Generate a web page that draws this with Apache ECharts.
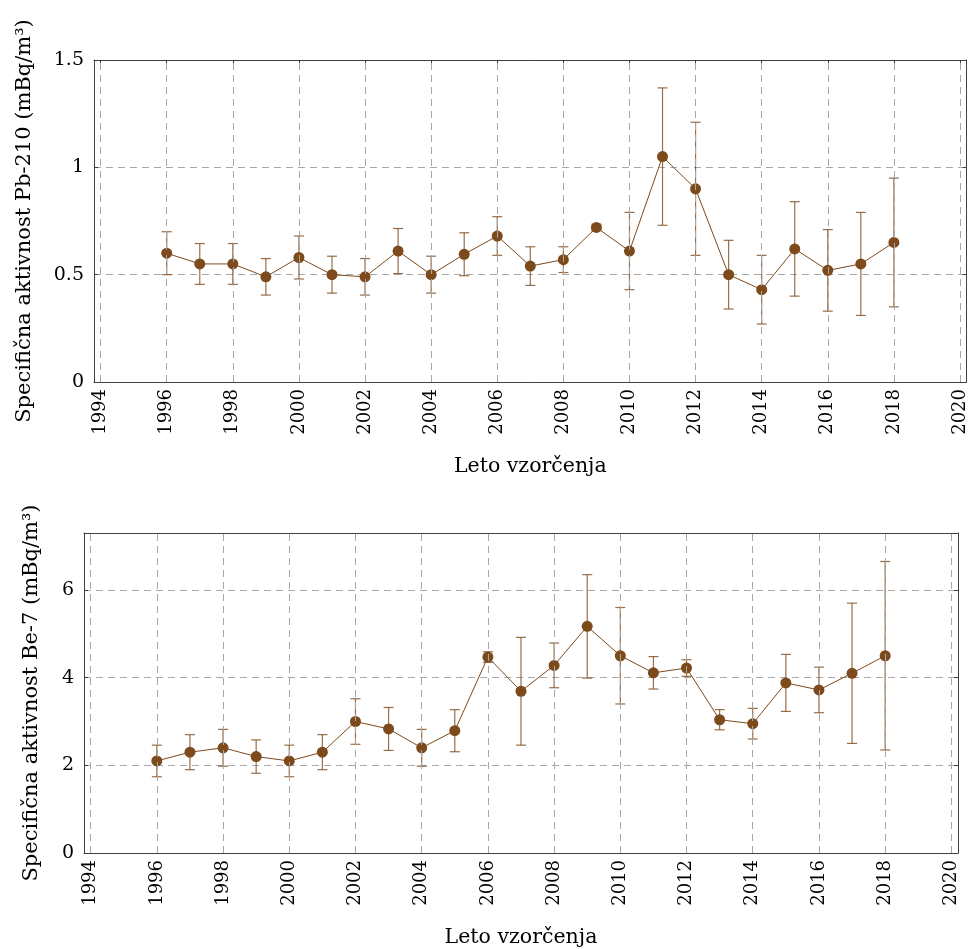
<!DOCTYPE html>
<html>
<head>
<meta charset="utf-8">
<script src="https://cdn.jsdelivr.net/npm/echarts@6/dist/echarts.min.js"></script>
<style>
html,body{margin:0;padding:0;background:#fff;}
#chart{width:969px;height:949px;}
</style>
</head>
<body>
<div id="chart"></div>
<script>
// ---- data ----
var years = [1996,1997,1998,1999,2000,2001,2002,2003,2004,2005,2006,2007,2008,2009,2010,2011,2012,2013,2014,2015,2016,2017,2018];
var pbValues = [0.60,0.55,0.55,0.49,0.58,0.50,0.49,0.61,0.50,0.595,0.68,0.54,0.57,0.72,0.61,1.05,0.90,0.50,0.43,0.62,0.52,0.55,0.65];
var pbErrors = [0.10,0.095,0.095,0.085,0.10,0.086,0.085,0.105,0.086,0.10,0.09,0.09,0.06,0.015,0.18,0.32,0.31,0.16,0.16,0.22,0.19,0.24,0.30];
var beValues = [2.10,2.30,2.40,2.20,2.10,2.30,3.00,2.83,2.40,2.79,4.47,3.69,4.28,5.17,4.50,4.11,4.22,3.04,2.95,3.88,3.72,4.10,4.50];
var beErrors = [0.36,0.40,0.42,0.38,0.36,0.40,0.52,0.49,0.42,0.48,0.12,1.23,0.51,1.18,1.10,0.37,0.19,0.23,0.35,0.65,0.52,1.60,2.15];
var xTickYears = [1994,1996,1998,2000,2002,2004,2006,2008,2010,2012,2014,2016,2018,2020];
var xName = 'Leto vzorčenja';
var pbName = 'Specifična aktivnost Pb-210 (mBq/m³)';
var beName = 'Specifična aktivnost Be-7 (mBq/m³)';

// ---- style ----
var FONT = 'DejaVu Serif';
var BROWN = '#7d4a1c';
var ERR = 'rgba(125,74,28,0.8)';
var GRID = '#a8a8a8';
var AXIS = '#404040';

function pairs(vals){ return years.map(function(y,i){ return [y, vals[i]]; }); }
function errData(vals, errs){ return years.map(function(y,i){ return [y, vals[i]-errs[i], vals[i]+errs[i]]; }); }

function errorSeries(xi, yi, vals, errs){
  return {
    type: 'custom', xAxisIndex: xi, yAxisIndex: yi, silent: true, z: 3,
    data: errData(vals, errs),
    renderItem: function(params, api){
      var lo = api.coord([api.value(0), api.value(1)]);
      var hi = api.coord([api.value(0), api.value(2)]);
      var w = 5;
      var st = {stroke: ERR, lineWidth: 1.2};
      return {type:'group', children:[
        {type:'line', shape:{x1:lo[0],y1:lo[1],x2:hi[0],y2:hi[1]}, style:st},
        {type:'line', shape:{x1:lo[0]-w,y1:lo[1],x2:lo[0]+w,y2:lo[1]}, style:st},
        {type:'line', shape:{x1:hi[0]-w,y1:hi[1],x2:hi[0]+w,y2:hi[1]}, style:st}
      ]};
    }
  };
}
function lineSeries(xi, yi, vals){
  return {
    type:'line', xAxisIndex: xi, yAxisIndex: yi, z: 4,
    data: pairs(vals), symbol:'circle', symbolSize: 11,
    lineStyle:{color: BROWN, width: 1}, itemStyle:{color: BROWN},
    emphasis:{disabled:true}, animation:false,
    markLine:{
      silent:true, symbol:['none','none'], label:{show:false}, animation:false,
      lineStyle:{color: GRID, type:[7,5], width:1},
      data: xTickYears.map(function(v){ return {xAxis: v}; })
    }
  };
}
function xAxisBottom(gi){
  return {
    type:'value', gridIndex: gi, min: 1993.8, max: 2020.2, position:'bottom',
    name: xName, nameLocation:'middle', nameGap: 74, nameMoveOverlap: false,
    nameTextStyle:{fontFamily: FONT, fontSize: 20.5, color:'#000'},
    axisLine:{show:true, onZero:false, lineStyle:{color: AXIS}},
    axisTick:{show:true, inside:true, length:4, customValues: xTickYears, lineStyle:{color: AXIS}},
    axisLabel:{show:true, rotate:90, margin: 7, customValues: xTickYears,
      fontFamily: FONT, fontSize: 18, color:'#000',
      formatter: function(v){ return String(v); }},
    splitLine:{show:false}
  };
}
function xAxisTop(gi){
  return {
    type:'value', gridIndex: gi, min: 1993.8, max: 2020.2, position:'top',
    axisLine:{show:true, onZero:false, lineStyle:{color: AXIS}},
    axisTick:{show:true, inside:true, length:4, customValues: xTickYears, lineStyle:{color: AXIS}},
    axisLabel:{show:false}, splitLine:{show:false}
  };
}
function yAxisLeft(gi, max, interval, name, gap, showMax){
  return {
    type:'value', gridIndex: gi, min: 0, max: max, interval: interval, position:'left',
    name: name, nameLocation:'middle', nameGap: gap, nameMoveOverlap: false,
    nameTextStyle:{fontFamily: FONT, fontSize: 21, color:'#000'},
    axisLine:{show:true, onZero:false, lineStyle:{color: AXIS}},
    axisTick:{show:true, inside:true, length:4, lineStyle:{color: AXIS}},
    axisLabel:{fontFamily: FONT, fontSize: 19, color:'#000', margin: 10, showMaxLabel: showMax},
    splitLine:{show:true, lineStyle:{color: GRID, type:[7,5], width:1}}
  };
}
function yAxisRight(gi, max, interval){
  return {
    type:'value', gridIndex: gi, min: 0, max: max, interval: interval, position:'right',
    axisLine:{show:true, onZero:false, lineStyle:{color: AXIS}},
    axisTick:{show:true, inside:true, length:4, lineStyle:{color: AXIS}},
    axisLabel:{show:false}, splitLine:{show:false}
  };
}

var chart = echarts.init(document.getElementById('chart'), null, {renderer:'canvas'});
chart.setOption({
  animation:false,
  backgroundColor:'#fff',
  grid:[
    {left: 94, top: 60, width: 873, height: 322, containLabel:false},
    {left: 84, top: 533, width: 874, height: 322, containLabel:false}
  ],
  xAxis:[xAxisBottom(0), xAxisTop(0), xAxisBottom(1), xAxisTop(1)],
  yAxis:[yAxisLeft(0, 1.5, 0.5, pbName, 59, true), yAxisRight(0, 1.5, 0.5),
         yAxisLeft(1, 7.3, 2, beName, 42, false), yAxisRight(1, 7.3, 2)],
  series:[
    errorSeries(0, 0, pbValues, pbErrors),
    lineSeries(0, 0, pbValues),
    errorSeries(2, 2, beValues, beErrors),
    lineSeries(2, 2, beValues)
  ]
});
</script>
</body>
</html>
